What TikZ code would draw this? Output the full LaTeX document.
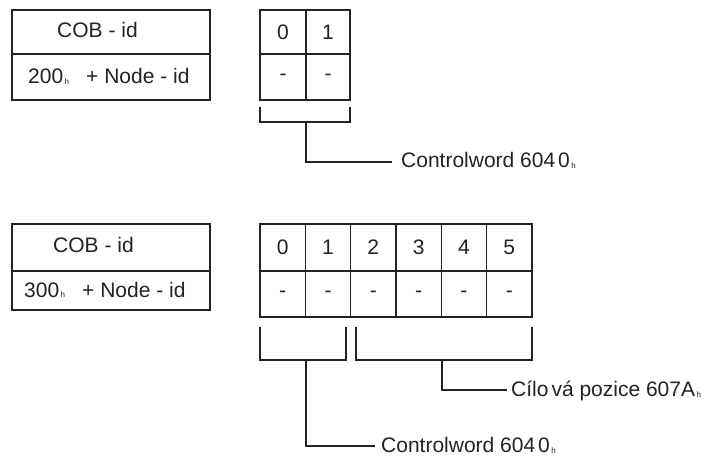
\documentclass[tikz,border=0pt]{standalone}
\usepackage{fontspec}
\setmainfont{Liberation Sans}
\newcommand\hsub{\hspace{1.5pt}\raisebox{-1pt}{\fontsize{8}{8}\selectfont h}}
\newcommand\fsz{\fontsize{21}{25}\selectfont}
\definecolor{ink}{HTML}{222222}
\begin{document}
\begin{tikzpicture}[x=1pt,y=-1pt,
  cell/.style={draw=ink, line width=1.2pt, inner sep=0pt, font=\fsz, text=ink},
  wire/.style={draw=ink, line width=1.2pt},
  txt/.style={inner sep=0pt, anchor=base west, font=\fsz, text=ink}]
\useasboundingbox (0,0) rectangle (707,457);
% ---------- top group ----------
\node[cell, minimum width=198pt, minimum height=44pt] (L1a) at (111,32) {};
\node[cell, minimum width=198pt, minimum height=46pt] (L1b) at (111,77) {};
\node[txt] (T1a) at (57,38) {COB - id};
\node[txt] (T1b) at (28,84) {200\hsub\hspace{17pt}+ Node - id};
\node[cell, minimum width=46pt, minimum height=44pt] (a0) at (283,32) {0};
\node[cell, minimum width=44pt, minimum height=44pt] (a1) at (328,32) {1};
\node[cell, minimum width=46pt, minimum height=46pt] (ad0) at (283,77) {-};
\node[cell, minimum width=44pt, minimum height=46pt] (ad1) at (328,77) {-};
\coordinate (k1a) at (260,107);
\coordinate (k1b) at (260,122);
\coordinate (k1c) at (350,122);
\coordinate (k1d) at (350,107);
\coordinate (s1a) at (306,122);
\coordinate (s1b) at (306,162);
\coordinate (s1c) at (392,162);
\draw[wire] (k1a) -- (k1b) -- (k1c) -- (k1d);
\draw[wire] (s1a) -- (s1b) -- (s1c);
\node[txt] (C1) at (401,168) {Controlword 604\hspace{3pt}0\hsub};
% ---------- bottom group ----------
\node[cell, minimum width=198pt, minimum height=47pt] (L2a) at (111,247.5) {};
\node[cell, minimum width=198pt, minimum height=39pt] (L2b) at (111,290.5) {};
\node[txt] (T2a) at (53,253) {COB - id};
\node[txt] (T2b) at (24,297) {300\hsub\hspace{17pt}+ Node - id};
\foreach \i in {0,...,5} {
  \node[cell, minimum width=45.33pt, minimum height=47pt] (b\i) at ({282.67+45.33*\i},247.5) {\i};
  \node[cell, minimum width=45.33pt, minimum height=46pt] (bd\i) at ({282.67+45.33*\i},294) {-};
}
\coordinate (k2a) at (260,327);
\coordinate (k2b) at (260,360);
\coordinate (k2c) at (346,360);
\coordinate (k2d) at (346,327);
\coordinate (k3a) at (356,327);
\coordinate (k3b) at (356,360);
\coordinate (k3c) at (532,360);
\coordinate (k3d) at (532,327);
\draw[wire] (k2a) -- (k2b) -- (k2c) -- (k2d);
\draw[wire] (k3a) -- (k3b) -- (k3c) -- (k3d);
\coordinate (s2a) at (306,360);
\coordinate (s2b) at (306,446);
\coordinate (s2c) at (375,446);
\draw[wire] (s2a) -- (s2b) -- (s2c);
\node[txt] (C2) at (381,452) {Controlword 604\hspace{3pt}0\hsub};
\coordinate (s3a) at (442,360);
\coordinate (s3b) at (442,390);
\coordinate (s3c) at (507,390);
\draw[wire] (s3a) -- (s3b) -- (s3c);
\node[txt] (C3) at (511,396) {Cílo\hspace{3pt}vá pozice 607A\hsub};
\end{tikzpicture}
\end{document}
